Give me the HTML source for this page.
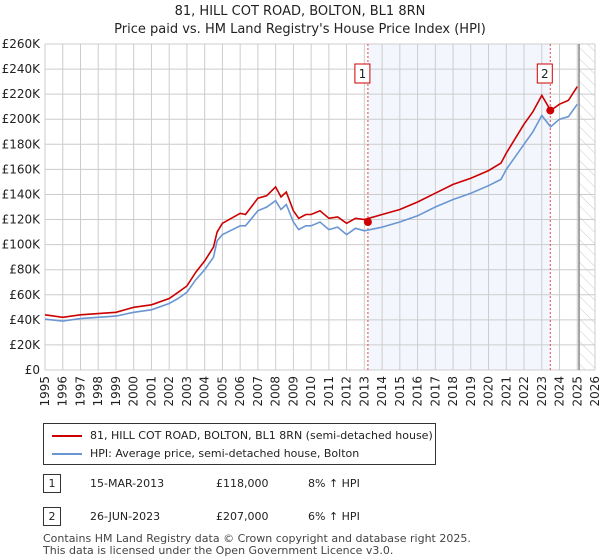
<!DOCTYPE html>
<html><head><meta charset="utf-8">
<style>
body{margin:0;background:#fff;font-family:"Liberation Sans","DejaVu Sans",sans-serif;}
#wrap{position:relative;width:600px;height:560px;overflow:hidden;}
</style></head>
<body><div id="wrap">
<svg id="svg" width="600" height="560" xmlns="http://www.w3.org/2000/svg" font-family="DejaVu Sans, Liberation Sans, sans-serif">
<defs><pattern id="hatch" width="8" height="8" patternUnits="userSpaceOnUse" patternTransform="rotate(-45)"><line x1="0" y1="0" x2="0" y2="8" stroke="#ccc" stroke-width="1"/></pattern></defs>
<text x="300" y="15" text-anchor="middle" font-size="13" fill="#222">81, HILL COT ROAD, BOLTON, BL1 8RN</text>
<text x="300" y="33" text-anchor="middle" font-size="13" fill="#222">Price paid vs. HM Land Registry's House Price Index (HPI)</text>
<g id="plot"></g>
</svg>
<div style="position:absolute;left:43px;top:423px;width:393px;height:42px;border:1px solid #333;box-sizing:border-box;font-size:11px;font-family:'DejaVu Sans','Liberation Sans',sans-serif;color:#222">
 <div style="position:absolute;left:8px;top:5px;"><span style="display:inline-block;width:30px;border-top:2px solid #c00;vertical-align:middle;margin-right:8px"></span>81, HILL COT ROAD, BOLTON, BL1 8RN (semi-detached house)</div>
 <div style="position:absolute;left:8px;top:23px;"><span style="display:inline-block;width:30px;border-top:2px solid #6a96d4;vertical-align:middle;margin-right:8px"></span>HPI: Average price, semi-detached house, Bolton</div>
</div>
<div style="font-size:11px;font-family:'DejaVu Sans','Liberation Sans',sans-serif;color:#222">
 <div style="position:absolute;left:43px;top:474px;width:16px;height:17px;border:1px solid #333;text-align:center;line-height:17px">1</div>
 <div style="position:absolute;left:90px;top:477px">15-MAR-2013</div>
 <div style="position:absolute;left:216px;top:477px">£118,000</div>
 <div style="position:absolute;left:308px;top:477px">8% ↑ HPI</div>
 <div style="position:absolute;left:43px;top:507px;width:16px;height:17px;border:1px solid #333;text-align:center;line-height:17px">2</div>
 <div style="position:absolute;left:90px;top:510px">26-JUN-2023</div>
 <div style="position:absolute;left:216px;top:510px">£207,000</div>
 <div style="position:absolute;left:308px;top:510px">6% ↑ HPI</div>
</div>
<div style="position:absolute;left:43px;top:533px;font-size:11px;line-height:12px;color:#444;font-family:'DejaVu Sans','Liberation Sans',sans-serif">Contains HM Land Registry data © Crown copyright and database right 2025.<br>This data is licensed under the Open Government Licence v3.0.</div>
</div>
<script>
const hpiYears=[1995,1996,1997,1998,1999,2000,2001,2002,2002.5,2003,2003.5,2004,2004.5,2004.7,2005,2006,2006.3,2007,2007.5,2008,2008.3,2008.6,2009,2009.3,2009.7,2010,2010.5,2011,2011.5,2012,2012.5,2013,2014,2015,2016,2017,2018,2019,2020,2020.7,2021,2022,2022.5,2023,2023.5,2024,2024.5,2025];
const hpiValues=[40.5,39,41,42,43,46,48,53,57,62,72,80,90,103,108,115,115,127,130,135,128,132,118,112,115,115,118,112,114,108,113,111,114,118,123,130,136,141,147,152,160,180,190,203,194,200,202,212];
const priceValues=[44,42,44,45,46,50,52,57,62,67,78,87,98,110,117,125,124,137,139,146,138,142,127,121,124,124,127,121,122,117,121,120,124,128,134,141,148,153,159,165,173,196,206,219,207,212,215,226];
const saleYears=[2013.2,2023.48];
const saleValues=[118,207];
const saleLabels=["1","2"];
const yTicks=[0,20,40,60,80,100,120,140,160,180,200,220,240,260];
const xTicks=[1995,1996,1997,1998,1999,2000,2001,2002,2003,2004,2005,2006,2007,2008,2009,2010,2011,2012,2013,2014,2015,2016,2017,2018,2019,2020,2021,2022,2023,2024,2025,2026];
const L=45,R=595,T=44,B=370;
const xs=y=>L+(y-1995)/(2026-1995)*(R-L);
const ys=v=>B-v/260*(B-T);
const NS="http://www.w3.org/2000/svg";
const g=document.getElementById('plot');
function mk(tag,a,p){const e=document.createElementNS(NS,tag);for(const k in a)e.setAttribute(k,a[k]);(p||g).appendChild(e);return e;}
let e=mk('rect',{x:xs(saleYears[0]),y:T,width:xs(saleYears[1])-xs(saleYears[0]),height:B-T,fill:'#eef3fc',opacity:0.7});


e=mk('rect',{x:xs(2025.1),y:T,width:R-xs(2025.1),height:B-T,fill:'url(#hatch)'});


yTicks.forEach(v=>{mk('line',{x1:L,x2:R,y1:ys(v),y2:ys(v),stroke:'#ccc'});
 const t=mk('text',{x:L-5,y:ys(v)+4,'text-anchor':'end','font-size':12,fill:'#222'});t.textContent='£'+(v?v+'K':'0');
 
 });
xTicks.forEach(y=>{mk('line',{x1:xs(y),x2:xs(y),y1:T,y2:B,stroke:'#ccc'});
 const t=mk('text',{x:0,y:0,transform:`translate(${xs(y)+4},${B+6}) rotate(-90)`,'text-anchor':'end','font-size':12,fill:'#222'});t.textContent=y;
 
 });
mk('line',{x1:xs(2025.1),x2:xs(2025.1),y1:T,y2:B,stroke:'#888','stroke-width':1.5});
saleYears.forEach((y,i)=>{mk('line',{x1:xs(y),x2:xs(y),y1:T,y2:B,stroke:'#e44','stroke-dasharray':'2,2','stroke-width':1});
 const bx=xs(y)-3-8;
 const r=mk('rect',{x:bx-2,y:64,width:15,height:19,fill:'#fff',stroke:'#c00'});
 
 
 const t=mk('text',{x:bx+5.5,y:78,'text-anchor':'middle','font-size':12,fill:'#222'});t.textContent=saleLabels[i];});
function path(vals,col,name){let d='';hpiYears.forEach((y,i)=>{d+=(i?'L':'M')+xs(y).toFixed(1)+','+ys(vals[i]).toFixed(1);});
 const p=mk('path',{d:d,fill:'none',stroke:col,'stroke-width':1.6});
 
 }
path(hpiValues,'#6a96d4','hpi-line');
path(priceValues,'#c00','price-line');
saleYears.forEach((y,i)=>{const c=mk('circle',{cx:xs(y),cy:ys(saleValues[i]),r:4,fill:'#c00'});
 
 });
</script>
</body></html>
